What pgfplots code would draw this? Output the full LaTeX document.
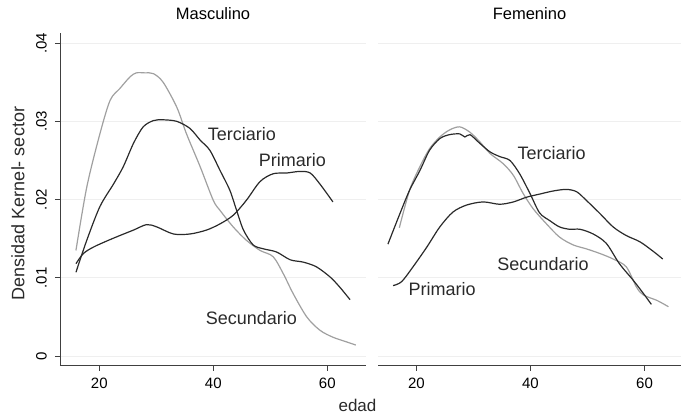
\documentclass[border=0pt]{standalone}
\usepackage{fontspec}
\setmainfont{Liberation Sans}
\usepackage{pgfplots}
\pgfplotsset{compat=1.18}
\definecolor{darkc}{HTML}{2A2A2A}
\definecolor{lightc}{HTML}{A0A0A0}
\definecolor{gridc}{HTML}{EFEFEF}
\definecolor{axisc}{HTML}{404040}

\pgfplotsset{
  panel/.style={
    scale only axis, height=332.7pt,
    ymin=-0.00124, ymax=0.0413,
    axis x line*=bottom, axis y line*=left,
    axis line style={axisc, line width=0.9pt},
    xtick={20,40,60}, ytick={0,0.01,0.02,0.03,0.04},
    yticklabels={0,.01,.02,.03,.04},
    ymajorgrids, major grid style={gridc, line width=0.9pt},
    tick align=outside, major tick length=5pt,
    tick style={axisc, line width=0.9pt},
    xticklabel style={font=\fontsize{15}{15}\selectfont, inner sep=0pt, anchor=north, yshift=-7pt},
    yticklabel style={font=\fontsize{15}{15}\selectfont, inner sep=0pt, xshift=-8pt, rotate=90, anchor=south},
    /pgf/number format/assume math mode=true,
    scaled y ticks=false,
    title style={font=\fontsize{16.5}{16.5}\selectfont, inner sep=0pt, at={(0.5,1)}, anchor=south, yshift=7pt},
    clip=false,
  },
  dk/.style={darkc, line width=1.2pt, smooth, no markers},
  lt/.style={lightc, line width=1.2pt, smooth, no markers},
}
\tikzset{lab/.style={font=\fontsize{18}{18}\selectfont, inner sep=0pt, text=darkc}}

\begin{document}
\begin{tikzpicture}
\path[use as bounding box] (0,0) rectangle (681pt,414pt);

% ---------------- Masculino ----------------
\begin{axis}[panel, at={(60pt,48.3pt)}, anchor=south west, width=306pt,
  xmin=13.1, xmax=66.8, title={Masculino}]
% Secundario
\addplot[lt] coordinates {
(15.9,.0135) (17.8,.0216) (20.1,.0284) (21.9,.0327) (23.6,.0342) (25.4,.0357)
(26.5,.0362) (28.0,.0362) (29.5,.0361) (31.2,.0350) (33.6,.0318) (35.3,.0284)
(37.7,.0242) (40.0,.0199) (41.2,.0186) (43.5,.0165) (45.8,.0148) (48.2,.0135)
(50.5,.0127) (52.3,.0105) (54.0,.0080) (56.4,.0050) (58.7,.0033) (61.0,.0024)
(63.4,.0018) (65.0,.0014)};
% Terciario
\addplot[dk] coordinates {
(15.9,.0107) (17.8,.0148) (20.1,.0191) (22.5,.0220) (24.2,.0242) (26.0,.0272)
(27.7,.0293) (29.5,.0301) (31.2,.0302) (33.6,.0300) (35.9,.0291) (37.7,.0276)
(39.4,.0263) (41.2,.0237) (42.9,.0212) (44.1,.0186) (45.3,.0161) (47.0,.0142)
(48.8,.0137) (51.1,.0133) (53.5,.0123) (55.8,.0120) (58.1,.0114) (60.5,.0101)
(62.2,.0088) (64.0,.0072)};
% Primario
\addplot[dk] coordinates {
(15.9,.0118) (17.2,.0131) (18.9,.0139) (21.3,.0147) (23.6,.0154) (26.0,.0161)
(28.3,.0168) (30.1,.0165) (33.0,.0156) (35.9,.0156) (38.8,.0161) (41.2,.0169)
(43.5,.0180) (45.8,.0199) (48.2,.0223) (50.5,.0233) (52.9,.0234) (55.2,.0236)
(57.0,.0234) (58.7,.0220) (61.0,.0197)};
\node[lab] at (axis cs:45.0,.0284) {Terciario};
\node[lab] at (axis cs:53.9,.0251) {Primario};
\node[lab] at (axis cs:46.7,.0049) {Secundario};
\end{axis}

% ---------------- Femenino ----------------
\begin{axis}[panel, at={(378pt,48.3pt)}, anchor=south west, width=303pt,
  xmin=13.26, xmax=66.4, title={Femenino},
  yticklabels={}, ytick style={draw=none}, y axis line style={draw=none}]
% Secundario
\addplot[lt] coordinates {
(17.0,.0164) (18.8,.0212) (20.6,.0242) (22.3,.0265) (24.1,.0280) (25.8,.0289)
(27.6,.0293) (29.4,.0286) (31.1,.0274) (32.9,.0259) (35.2,.0246) (37.0,.0231)
(38.7,.0208) (40.5,.0188) (42.8,.0169) (45.1,.0152) (47.5,.0142) (49.8,.0137)
(52.2,.0131) (54.5,.0124) (56.8,.0114) (58.6,.0088) (59.8,.0078) (62.2,.0071)
(64.2,.0063)};
% Terciario
\addplot[dk] coordinates {
(15.0,.0143) (17.1,.0182) (18.8,.0212) (20.6,.0237) (22.3,.0263) (24.1,.0278)
(25.8,.0283) (27.6,.0284) (28.5,.0280) (29.4,.0283) (31.1,.0272) (32.9,.0261)
(34.6,.0255) (36.4,.0250) (38.1,.0233) (39.9,.0208) (41.6,.0183) (43.4,.0173)
(45.1,.0165) (46.9,.0162) (48.7,.0162) (51.0,.0156) (53.3,.0144) (55.6,.0118)
(58.0,.0097) (59.8,.0080) (61.2,.0066)};
% Primario
\addplot[dk] coordinates {
(15.9,.0090) (17.4,.0095) (19.4,.0114) (21.8,.0139) (24.1,.0165) (26.4,.0184)
(28.8,.0193) (31.7,.0197) (34.6,.0194) (37.0,.0197) (39.3,.0203) (41.6,.0207)
(44.0,.0211) (46.3,.0213) (48.1,.0210) (49.8,.0199) (52.2,.0182) (54.5,.0165)
(56.8,.0154) (59.2,.0146) (61.5,.0134) (63.2,.0124)};
\node[lab] at (axis cs:43.7,.0259) {Terciario};
\node[lab] at (axis cs:42.2,.0118) {Secundario};
\node[lab] at (axis cs:24.5,.0085) {Primario};
\end{axis}

\node[rotate=90, inner sep=0pt, font=\fontsize{18}{18}\selectfont, text=darkc] at (18pt,210.5pt) {Densidad Kernel- sector};
\node[anchor=base, inner sep=0pt, font=\fontsize{17}{17}\selectfont, text=darkc] at (357.5pt,2.5pt) {edad};
\end{tikzpicture}
\end{document}
